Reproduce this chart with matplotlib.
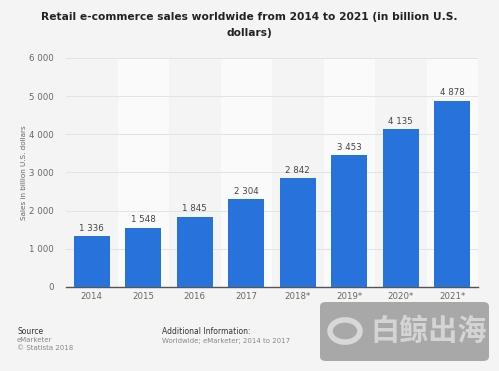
import numpy as np
import matplotlib
matplotlib.use("Agg")
import matplotlib.pyplot as plt
from matplotlib.patches import FancyBboxPatch, Circle

# data
years = ["2014", "2015", "2016", "2017", "2018*", "2019*", "2020*", "2021*"]
sales = [1336, 1548, 1845, 2304, 2842, 3453, 4135, 4878]
yticks = [0, 1000, 2000, 3000, 4000, 5000, 6000]


def fmt(v):
    return "{:,}".format(v).replace(",", " ")


bg = "#f4f4f4"
fig = plt.figure(figsize=(4.99, 3.71), dpi=100, facecolor=bg)
W, H = 499.0, 371.0
ax = fig.add_axes([66 / W, 1 - 287 / H, 412 / W, (287 - 57.8) / H])
ax.set_facecolor(bg)

x = np.arange(len(years))
# alternating column bands
for i in x:
    if i % 2 == 1:
        ax.axvspan(i - 0.5, i + 0.5, color="#fafafa", zorder=0, lw=0)

ax.set_ylim(0, 6000)
ax.set_xlim(-0.5, len(years) - 0.5)
ax.set_yticks(yticks)
ax.set_yticklabels([fmt(v) for v in yticks])
ax.yaxis.grid(True, color="#e3e3e3", lw=0.7, zorder=1)
ax.set_axisbelow(True)

bars = ax.bar(x, sales, width=0.7, color="#2873db", zorder=3)
for xi, v in zip(x, sales):
    ax.text(xi, v + 90, fmt(v), ha="center", va="bottom", fontsize=6.2, color="#444444", zorder=4)

ax.set_xticks(x)
ax.set_xticklabels(years)
ax.tick_params(axis="both", length=0, labelsize=6.2, colors="#666666")
ax.tick_params(axis="x", pad=3.5)
ax.tick_params(axis="y", pad=9)
for s in ["top", "right", "left"]:
    ax.spines[s].set_visible(False)
ax.spines["bottom"].set_color("#555555")
ax.spines["bottom"].set_linewidth(1.0)

ax.set_ylabel("Sales in billion U.S. dollars", fontsize=5.2, color="#666666", labelpad=1)

fig.text(0.5, 1 - 17 / H, "Retail e-commerce sales worldwide from 2014 to 2021 (in billion U.S.",
         ha="center", va="center", fontsize=7.7, fontweight="bold", color="#222222")
fig.text(0.5, 1 - 33 / H, "dollars)", ha="center", va="center", fontsize=7.7,
         fontweight="bold", color="#222222")

# footer
fig.text(17 / W, 1 - 332 / H, "Source", fontsize=5.5, color="#333333", va="center")
fig.text(17 / W, 1 - 340.5 / H, "eMarketer", fontsize=5, color="#888888", va="center")
fig.text(17 / W, 1 - 348.5 / H, "© Statista 2018", fontsize=5, color="#888888", va="center")
fig.text(162 / W, 1 - 332 / H, "Additional Information:", fontsize=5.5, color="#333333", va="center")
fig.text(162 / W, 1 - 340.5 / H, "Worldwide; eMarketer; 2014 to 2017", fontsize=5,
         color="#888888", va="center")

# watermark box
box = FancyBboxPatch((320 / W, 1 - 361 / H), 169 / W, 59 / H,
                     boxstyle="round,pad=0,rounding_size=0.012",
                     transform=fig.transFigure, facecolor="#9b9b9b", edgecolor="none",
                     alpha=0.85, zorder=5)
fig.patches.append(box)
ring = Circle((345 / W, 1 - 331 / H), 0.03, transform=fig.transFigure, fill=False,
              edgecolor="#d8d8d8", lw=4, zorder=6)
fig.patches.append(ring)
fig.text(429 / W, 1 - 331 / H, "白鲸出海", ha="center", va="center", fontsize=21,
         fontweight="bold", color="#d4d4d4", family=["Noto Sans CJK SC", "DejaVu Sans"], zorder=7)

fig.savefig("out.png", dpi=100, facecolor=bg)
